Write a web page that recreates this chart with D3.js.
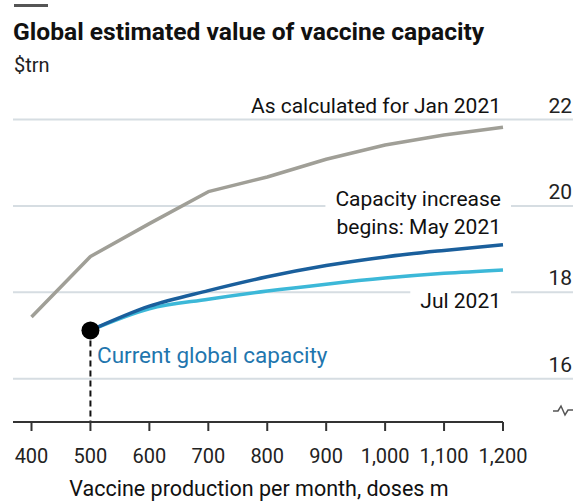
<!DOCTYPE html>
<html>
<head>
<meta charset="utf-8">
<script src="https://cdn.jsdelivr.net/npm/d3@7"></script>
<style>
  body { margin: 0; background: #fff; }
  svg { font-family: Roboto, "Open Sans", sans-serif; }
</style>
</head>
<body>
<svg id="chart"></svg>
<script>
// doses per month (m) and estimated value ($trn)
let doses = [400, 500, 600, 700, 800, 900, 1000, 1100, 1200];
let jan2021 = [17.43, 18.83, 19.59, 20.33, 20.67, 21.08, 21.41, 21.64, 21.82];
let may2021 = [null, 17.12, 17.68, 18.04, 18.36, 18.62, 18.82, 18.97, 19.10];
let jul2021 = [null, 17.12, 17.62, 17.84, 18.03, 18.19, 18.33, 18.44, 18.52];
let yTicks = [16, 18, 20, 22];
let xTicks = [400, 500, 600, 700, 800, 900, 1000, 1100, 1200];
let currentCapacity = { doses: 500, value: 17.12 };

let width = 578;
let height = 502;
let svg = d3.select('#chart')
  .attr('width', width)
  .attr('height', height);

let xScale = d3.scaleLinear()
  .domain([400, 1200])
  .range([31.5, 503]);
let yScale = d3.scaleLinear()
  .domain([15, 22])
  .range([422, 119.5]);

let fmt = d3.format(',');

// header
svg.append('rect')
  .attr('x', 14).attr('y', 4)
  .attr('width', 34).attr('height', 3)
  .attr('fill', '#555');
svg.append('text')
  .attr('x', 13).attr('y', 40)
  .style('font-size', '24.6px')
  .style('font-weight', 'bold')
  .attr('fill', '#111')
  .text('Global estimated value of vaccine capacity');
svg.append('text')
  .attr('x', 14).attr('y', 72)
  .style('font-size', '20px')
  .attr('fill', '#222')
  .text('$trn');

// gridlines + y labels
let grid = svg.append('g');
grid.selectAll('line')
  .data(yTicks)
  .enter().append('line')
  .attr('x1', 13).attr('x2', 573)
  .attr('y1', d => yScale(d)).attr('y2', d => yScale(d))
  .attr('stroke', '#d6dde2')
  .attr('stroke-width', 2);
grid.selectAll('text')
  .data(yTicks)
  .enter().append('text')
  .attr('x', 572)
  .attr('y', d => yScale(d) - 7)
  .attr('text-anchor', 'end')
  .style('font-size', '21px')
  .attr('fill', '#222')
  .text(d => d);

// axis break symbol
svg.append('path')
  .attr('d', 'M553,411 L558,411 L561,406 L565,415 L568,410 L573,410')
  .attr('fill', 'none')
  .attr('stroke', '#555')
  .attr('stroke-width', 1.5);

// dashed line to current capacity
svg.append('line')
  .attr('x1', xScale(currentCapacity.doses)).attr('x2', xScale(currentCapacity.doses))
  .attr('y1', yScale(currentCapacity.value)).attr('y2', yScale(15))
  .attr('stroke', '#111')
  .attr('stroke-width', 2)
  .attr('stroke-dasharray', '6,4');

// x axis
let xAxis = svg.append('g');
xAxis.append('line')
  .attr('x1', 13).attr('x2', xScale(1200))
  .attr('y1', yScale(15)).attr('y2', yScale(15))
  .attr('stroke', '#333')
  .attr('stroke-width', 2);
xAxis.selectAll('.tick')
  .data(xTicks)
  .enter().append('line')
  .attr('x1', d => xScale(d)).attr('x2', d => xScale(d))
  .attr('y1', yScale(15)).attr('y2', yScale(15) + 9)
  .attr('stroke', '#333')
  .attr('stroke-width', 2);
xAxis.selectAll('text')
  .data(xTicks)
  .enter().append('text')
  .attr('x', d => xScale(d))
  .attr('y', 463)
  .attr('text-anchor', 'middle')
  .style('font-size', '20px')
  .attr('fill', '#222')
  .text(d => fmt(d));
svg.append('text')
  .attr('x', 259).attr('y', 496)
  .attr('text-anchor', 'middle')
  .style('font-size', '21.5px')
  .attr('fill', '#111')
  .text('Vaccine production per month, doses m');

// labels with white backing (gridlines break around them)
function label(lines, x, y0, lineH, color) {
  let g = svg.append('g');
  let t = g.append('text')
    .attr('text-anchor', 'end')
    .style('font-size', '21px')
    .attr('fill', color);
  lines.forEach((s, i) => {
    t.append('tspan').attr('x', x).attr('y', y0 + i * lineH).text(s);
  });
  let bb = t.node().getBBox();
  g.insert('rect', 'text')
    .attr('x', bb.x - 10).attr('y', bb.y)
    .attr('width', bb.width + 20).attr('height', bb.height)
    .attr('fill', '#fff');
  return g;
}
label(['As calculated for Jan 2021'], 501, 113, 28, '#111');
label(['Capacity increase', 'begins: May 2021'], 501, 206, 28, '#111');
label(['Jul 2021'], 501, 308, 28, '#111');

// lines
function makeLine(curve) {
  return d3.line()
    .defined(d => d[1] != null)
    .x(d => xScale(d[0]))
    .y(d => yScale(d[1]))
    .curve(curve);
}
let series = [
  { values: jan2021, color: '#a09f97', curve: d3.curveLinear },
  { values: jul2021, color: '#3cb8d8', curve: d3.curveMonotoneX },
  { values: may2021, color: '#1a5f9c', curve: d3.curveMonotoneX }
];
for (let s of series) {
  svg.append('path')
    .datum(doses.map((d, i) => [d, s.values[i]]))
    .attr('d', makeLine(s.curve))
    .attr('fill', 'none')
    .attr('stroke', s.color)
    .attr('stroke-width', 3.5)
    .attr('stroke-linejoin', 'round');
}

// current capacity dot + label
svg.append('circle')
  .attr('cx', xScale(currentCapacity.doses))
  .attr('cy', yScale(currentCapacity.value))
  .attr('r', 9)
  .attr('fill', '#000');
svg.append('text')
  .attr('x', 97).attr('y', 363)
  .style('font-size', '22.5px')
  .attr('fill', '#1f76ae')
  .text('Current global capacity');
</script>
</body>
</html>
